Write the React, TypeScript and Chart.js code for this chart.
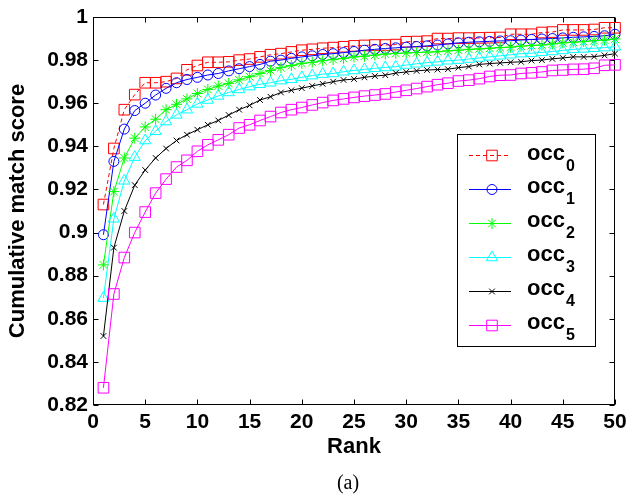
import React, { useEffect, useRef } from "react";
import { Chart, registerables } from "chart.js";
import { drawPoint } from "chart.js/helpers";

Chart.register(...registerables);

// Rank positions on the x axis
const ranks = [
  1, 2, 3, 4, 5, 6, 7, 8, 9, 10, 11, 12, 13, 14, 15, 16, 17, 18, 19, 20, 21, 22, 23, 24, 25,
  26, 27, 28, 29, 30, 31, 32, 33, 34, 35, 36, 37, 38, 39, 40, 41, 42, 43, 44, 45, 46, 47, 48, 49, 50,
];

// Cumulative match scores per occlusion level
const occ0 = [
  0.913, 0.939, 0.957, 0.964, 0.9695, 0.9695, 0.97, 0.9715, 0.9755, 0.9775,
  0.979, 0.979, 0.9792, 0.98, 0.9805, 0.9815, 0.9825, 0.983, 0.9838, 0.9846,
  0.985, 0.9855, 0.9858, 0.9862, 0.9866, 0.9868, 0.987, 0.987, 0.9872, 0.9885,
  0.9886, 0.9888, 0.99, 0.99, 0.9902, 0.9902, 0.9903, 0.9904, 0.9905, 0.992,
  0.992, 0.992, 0.9928, 0.993, 0.994, 0.994, 0.994, 0.9942, 0.995, 0.995,
];
const occ1 = [
  0.899, 0.933, 0.948, 0.9566, 0.96, 0.9638, 0.9669, 0.9695, 0.971, 0.972,
  0.9731, 0.9738, 0.975, 0.976, 0.977, 0.978, 0.9795, 0.98, 0.9808, 0.9815,
  0.982, 0.9826, 0.983, 0.9835, 0.984, 0.9846, 0.985, 0.9854, 0.9857, 0.986,
  0.9863, 0.9866, 0.987, 0.9875, 0.988, 0.9883, 0.9885, 0.9887, 0.9889, 0.989,
  0.9893, 0.9896, 0.9898, 0.99, 0.9903, 0.9906, 0.9908, 0.991, 0.9913, 0.992,
];
const occ2 = [
  0.885, 0.919, 0.9346, 0.9438, 0.949, 0.9526, 0.957, 0.9595, 0.962, 0.9645,
  0.9664, 0.968, 0.9692, 0.9708, 0.9723, 0.9738, 0.9752, 0.9765, 0.9775, 0.9785,
  0.979, 0.9797, 0.9803, 0.9808, 0.9815, 0.9818, 0.9823, 0.9828, 0.9831, 0.9833,
  0.9835, 0.9837, 0.9839, 0.9843, 0.9846, 0.985, 0.9852, 0.9855, 0.9858, 0.986,
  0.9865, 0.9868, 0.987, 0.9875, 0.988, 0.9883, 0.9886, 0.989, 0.9893, 0.9898,
];
const occ3 = [
  0.8696, 0.9064, 0.924, 0.935, 0.9427, 0.947, 0.9515, 0.9546, 0.957, 0.9597,
  0.9615, 0.9634, 0.965, 0.9664, 0.9677, 0.9688, 0.9695, 0.9705, 0.9711, 0.972,
  0.9728, 0.9735, 0.9738, 0.9746, 0.9752, 0.9757, 0.9762, 0.9766, 0.9769, 0.9777,
  0.9783, 0.9788, 0.9792, 0.9797, 0.98, 0.9805, 0.981, 0.9815, 0.982, 0.9825,
  0.983, 0.9832, 0.9836, 0.984, 0.9845, 0.985, 0.9852, 0.9855, 0.9858, 0.9862,
];
const occ4 = [
  0.852, 0.893, 0.91, 0.922, 0.929, 0.9346, 0.939, 0.9427, 0.9454, 0.9477,
  0.95, 0.952, 0.9545, 0.957, 0.959, 0.9615, 0.963, 0.965, 0.966, 0.967,
  0.968, 0.969, 0.97, 0.9708, 0.9712, 0.972, 0.9726, 0.973, 0.974, 0.9745,
  0.975, 0.9754, 0.9756, 0.9758, 0.9765, 0.977, 0.978, 0.9784, 0.9787, 0.979,
  0.9792, 0.9798, 0.98, 0.9806, 0.981, 0.9815, 0.9815, 0.9816, 0.9822, 0.983,
];
const occ5 = [
  0.828, 0.8715, 0.8884, 0.9, 0.9095, 0.9183, 0.9248, 0.9304, 0.9335, 0.9377,
  0.9407, 0.943, 0.9454, 0.9485, 0.95, 0.952, 0.9538, 0.9557, 0.957, 0.958,
  0.9592, 0.9603, 0.9613, 0.962, 0.9627, 0.9633, 0.9638, 0.9643, 0.9652, 0.966,
  0.9668, 0.9677, 0.9686, 0.9693, 0.9703, 0.9707, 0.9714, 0.9724, 0.973, 0.9731,
  0.9738, 0.9741, 0.9745, 0.9752, 0.9754, 0.9757, 0.9758, 0.9762, 0.9776, 0.9778,
];

const seriesLabels = ["occ0", "occ1", "occ2", "occ3", "occ4", "occ5"];
const seriesValues = [occ0, occ1, occ2, occ3, occ4, occ5];

const xTickValues = [0, 5, 10, 15, 20, 25, 30, 35, 40, 45, 50];
const xTickLabels = ["0", "5", "10", "15", "20", "25", "30", "35", "40", "45", "50"];
const yTickValues = [0.82, 0.84, 0.86, 0.88, 0.9, 0.92, 0.94, 0.96, 0.98, 1];
const yTickLabels = ["0.82", "0.84", "0.86", "0.88", "0.9", "0.92", "0.94", "0.96", "0.98", "1"];

const xTitle = "Rank";
const yTitle = "Cumulative match score";
const caption = "(a)";

// Line / marker look for each series
const seriesStyles = [
  { color: "#ff0000", dash: [4, 3], pointStyle: "rect", radius: 7.5 },
  { color: "#0000ff", dash: [], pointStyle: "circle", radius: 5 },
  { color: "#00ff00", dash: [], pointStyle: "star", radius: 5.5 },
  { color: "#00ffff", dash: [], pointStyle: "triangle", radius: 6.5 },
  { color: "#000000", dash: [], pointStyle: "crossRot", radius: 4 },
  { color: "#ff00ff", dash: [], pointStyle: "rect", radius: 7.5 },
];

const SANS = "'Liberation Sans', Arial, Helvetica, sans-serif";
const SERIF = "'Liberation Serif', 'Times New Roman', serif";

// Box frame with inward tick marks on all four sides
const framePlugin = {
  id: "frameTicks",
  beforeDatasetsDraw(chart: any) {
    const { ctx, chartArea: a, scales } = chart;
    const L = Math.round(a.left) + 0.5;
    const R = Math.round(a.right) - 0.5;
    const T = Math.round(a.top) + 0.5;
    const B = Math.round(a.bottom) - 0.5;
    const len = 5;
    ctx.save();
    ctx.strokeStyle = "#000";
    ctx.lineWidth = 1;
    ctx.beginPath();
    for (const v of xTickValues) {
      const px = Math.round(scales.x.getPixelForValue(v)) + 0.5;
      ctx.moveTo(px, B);
      ctx.lineTo(px, B - len);
      ctx.moveTo(px, T);
      ctx.lineTo(px, T + len);
    }
    for (const v of yTickValues) {
      const py = Math.round(scales.y.getPixelForValue(v)) + 0.5;
      ctx.moveTo(L, py);
      ctx.lineTo(L + len, py);
      ctx.moveTo(R, py);
      ctx.lineTo(R - len, py);
    }
    ctx.stroke();
    ctx.strokeRect(L, T, R - L, B - T);
    ctx.restore();
  },
};

// Boxed legend with subscripted labels, plus the caption below the axes
const legendPlugin = {
  id: "occLegend",
  afterDraw(chart: any) {
    const { ctx, chartArea: a } = chart;
    const bw = 138;
    const bh = 212;
    const bx = Math.round(a.right) - 20 - bw;
    const by = Math.round(a.top) + 117;
    ctx.save();
    ctx.fillStyle = "#ffffff";
    ctx.fillRect(bx, by, bw, bh);
    ctx.strokeStyle = "#000000";
    ctx.lineWidth = 1;
    ctx.strokeRect(bx + 0.5, by + 0.5, bw, bh);
    ctx.restore();

    chart.data.datasets.forEach((ds: any, i: number) => {
      const st = seriesStyles[i];
      const y = by + 21 + i * 33.9;
      const ly = Math.round(y) + 0.5;

      // sample line
      ctx.save();
      ctx.lineWidth = 1;
      ctx.setLineDash(st.dash);
      ctx.beginPath();
      ctx.moveTo(bx + 12, ly);
      ctx.lineTo(bx + 54, ly);
      ctx.strokeStyle = st.color;
      ctx.stroke();
      ctx.restore();

      // sample marker
      ctx.save();
      ctx.setLineDash([]);
      ctx.strokeStyle = st.color;
      ctx.fillStyle = "rgba(0,0,0,0)";
      ctx.lineWidth = 1;
      drawPoint(
        ctx,
        { pointStyle: st.pointStyle, radius: st.radius, rotation: 0, borderWidth: 1 } as any,
        bx + 35,
        ly
      );
      ctx.restore();

      // label with subscript index
      const label: string = ds.label;
      const base = label.slice(0, 3);
      const sub = label.slice(3);
      ctx.save();
      ctx.fillStyle = "#000";
      ctx.textAlign = "left";
      ctx.textBaseline = "alphabetic";
      ctx.font = `bold 22px ${SANS}`;
      const tx = bx + 70;
      ctx.fillText(base, tx, y + 4.5);
      const w = ctx.measureText(base).width;
      ctx.font = `bold 16px ${SANS}`;
      ctx.fillText(sub, tx + w + 1, y + 15.5);
      ctx.restore();
    });

    ctx.save();
    ctx.fillStyle = "#000";
    ctx.font = `20px ${SERIF}`;
    ctx.textAlign = "center";
    ctx.textBaseline = "middle";
    ctx.fillText(caption, 348, 484);
    ctx.restore();
  },
};

export default function App() {
  const canvasRef = useRef<HTMLCanvasElement | null>(null);

  useEffect(() => {
    const canvas = canvasRef.current;
    if (!canvas) return;

    const n = seriesValues.length;
    const datasets = seriesValues.map((vals, i) => {
      const st = seriesStyles[i];
      return {
        label: seriesLabels[i],
        data: ranks.map((r, k) => ({ x: r, y: vals[k] })),
        borderColor: st.color,
        backgroundColor: "rgba(0,0,0,0)",
        borderWidth: 1,
        borderDash: st.dash,
        pointStyle: st.pointStyle,
        pointRadius: st.radius,
        pointBorderColor: st.color,
        pointBackgroundColor: "rgba(0,0,0,0)",
        pointBorderWidth: 1,
        tension: 0,
        fill: false,
        clip: false,
        order: n - 1 - i,
      };
    });

    const chart = new Chart(canvas, {
      type: "line",
      data: { datasets } as any,
      options: {
        responsive: false,
        maintainAspectRatio: false,
        animation: false,
        devicePixelRatio: 1,
        layout: { padding: { left: 0, top: 17, right: 13, bottom: 24 } },
        plugins: {
          legend: { display: false },
          tooltip: { enabled: false },
          title: { display: false },
        },
        scales: {
          x: {
            type: "linear",
            min: 0,
            max: 50,
            afterBuildTicks: (scale: any) => {
              scale.ticks = xTickValues.map((v) => ({ value: v }));
            },
            afterFit: (scale: any) => {
              scale.height = 67;
              scale.paddingLeft = 0;
              scale.paddingRight = 0;
            },
            grid: { display: false, drawTicks: false },
            border: { display: false },
            ticks: {
              autoSkip: false,
              maxRotation: 0,
              padding: 5,
              color: "#000",
              font: { family: SANS, size: 21, weight: "bold" },
              callback: (_v: any, i: number) => xTickLabels[i],
            },
            title: {
              display: true,
              text: xTitle,
              color: "#000",
              font: { family: SANS, size: 22, weight: "bold" },
              padding: { top: 0, bottom: 12 },
            },
          },
          y: {
            type: "linear",
            min: 0.82,
            max: 1,
            afterBuildTicks: (scale: any) => {
              scale.ticks = yTickValues.map((v) => ({ value: v }));
            },
            afterFit: (scale: any) => {
              scale.width = 93;
              scale.paddingTop = 0;
              scale.paddingBottom = 0;
            },
            grid: { display: false, drawTicks: false },
            border: { display: false },
            ticks: {
              autoSkip: false,
              padding: 5,
              color: "#000",
              font: { family: SANS, size: 21, weight: "bold" },
              callback: (_v: any, i: number) => yTickLabels[i],
            },
            title: {
              display: true,
              text: yTitle,
              color: "#000",
              font: { family: SANS, size: 22, weight: "bold" },
              padding: { top: 5, bottom: 0 },
            },
          },
        },
      } as any,
      plugins: [framePlugin, legendPlugin],
    });

    return () => chart.destroy();
  }, []);

  return (
    <div style={{ position: "absolute", left: 0, top: 0, width: 628, height: 496, background: "#fff" }}>
      <canvas ref={canvasRef} width={628} height={496} style={{ display: "block" }} />
    </div>
  );
}
